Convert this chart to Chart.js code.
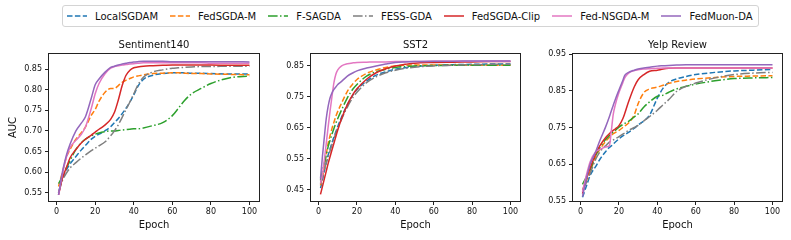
<!DOCTYPE html>
<html>
<head>
<meta charset="utf-8">
<script src="https://cdn.jsdelivr.net/npm/chart.js@4.4.0/dist/chart.umd.min.js"></script>
<style>
  body { margin: 0; background: #fff; width: 791px; height: 240px; position: relative; overflow: hidden; font-family: "DejaVu Sans", sans-serif; }
  canvas { position: absolute; top: 30px; }
  #legend { position: absolute; left: 62px; top: 5px; height: 20px; padding: 0 5px 0 4px; border: 1px solid #d4d4d4; border-radius: 3px;
            display: flex; align-items: center; gap: 12px; font-size: 10px; color: #111; white-space: nowrap; }
  .item { display: flex; align-items: center; }
  .item svg { margin-right: 8px; }
</style>
</head>
<body>
<div id="legend"></div>
<canvas id="c1" width="265" height="210" style="left:0px"></canvas>
<canvas id="c2" width="256" height="210" style="left:270px"></canvas>
<canvas id="c3" width="259" height="210" style="left:532px"></canvas>
<script>
// series (legend order)
const seriesNames = ['LocalSGDAM', 'FedSGDA-M', 'F-SAGDA', 'FESS-GDA', 'FedSGDA-Clip', 'Fed-NSGDA-M', 'FedMuon-DA'];
const seriesColors = ['#1f77b4', '#ff7f0e', '#2ca02c', '#7f7f7f', '#d62728', '#e377c2', '#9467bd'];
const seriesDashes = [[5.5, 2.4], [5.5, 2.4], [9.6, 2.4, 1.5, 2.4], [9.6, 2.4, 1.5, 2.4], [], [], []];

const xTicks = [0, 20, 40, 60, 80, 100];

// Sentiment140
const sentEpochs = [1, 3, 5, 7, 10, 13, 15, 18, 20, 22, 25, 28, 30, 32, 34, 36, 38, 40, 42, 45, 50, 55, 60, 63, 66, 70, 75, 80, 90, 100];
const sentLocalSGDAM = [0.55, 0.585, 0.605, 0.62, 0.638, 0.655, 0.665, 0.68, 0.687, 0.692, 0.70, 0.71, 0.72, 0.73, 0.742, 0.755, 0.77, 0.787, 0.807, 0.825, 0.835, 0.839, 0.841, 0.841, 0.841, 0.84, 0.84, 0.839, 0.838, 0.838];
const sentFedSGDAM = [0.565, 0.60, 0.635, 0.655, 0.68, 0.697, 0.71, 0.738, 0.752, 0.772, 0.793, 0.803, 0.803, 0.81, 0.818, 0.823, 0.827, 0.831, 0.833, 0.836, 0.839, 0.84, 0.841, 0.841, 0.84, 0.839, 0.839, 0.838, 0.837, 0.836];
const sentFSAGDA = [0.572, 0.59, 0.61, 0.628, 0.655, 0.672, 0.68, 0.688, 0.692, 0.695, 0.698, 0.70, 0.70, 0.701, 0.702, 0.703, 0.704, 0.705, 0.705, 0.707, 0.713, 0.72, 0.737, 0.754, 0.772, 0.79, 0.803, 0.815, 0.829, 0.833];
const sentFESSGDA = [0.55, 0.58, 0.597, 0.61, 0.623, 0.635, 0.642, 0.652, 0.658, 0.664, 0.673, 0.688, 0.70, 0.715, 0.733, 0.752, 0.77, 0.79, 0.81, 0.83, 0.843, 0.848, 0.852, 0.853, 0.854, 0.855, 0.856, 0.856, 0.857, 0.857];
const sentFedSGDAClip = [0.545, 0.585, 0.61, 0.635, 0.655, 0.672, 0.68, 0.69, 0.697, 0.704, 0.714, 0.728, 0.745, 0.775, 0.81, 0.835, 0.847, 0.853, 0.855, 0.857, 0.858, 0.859, 0.86, 0.86, 0.86, 0.86, 0.86, 0.86, 0.859, 0.859];
const sentFedNSGDAM = [0.545, 0.595, 0.635, 0.66, 0.677, 0.693, 0.71, 0.755, 0.79, 0.815, 0.838, 0.852, 0.856, 0.858, 0.86, 0.861, 0.862, 0.863, 0.864, 0.865, 0.865, 0.865, 0.865, 0.865, 0.865, 0.865, 0.865, 0.864, 0.864, 0.864];
const sentFedMuonDA = [0.545, 0.60, 0.64, 0.668, 0.70, 0.72, 0.735, 0.78, 0.812, 0.826, 0.842, 0.854, 0.857, 0.86, 0.862, 0.864, 0.866, 0.867, 0.868, 0.869, 0.869, 0.869, 0.868, 0.868, 0.868, 0.868, 0.868, 0.868, 0.868, 0.867];
const sentYTicks = [0.55, 0.60, 0.65, 0.70, 0.75, 0.80, 0.85];

// SST2
const sstEpochs = [1, 2, 3, 4, 5, 6, 7, 8, 9, 10, 12, 15, 18, 20, 25, 30, 35, 40, 45, 50, 60, 70, 80, 90, 100];
const sstLocalSGDAM = [0.455, 0.48, 0.51, 0.537, 0.562, 0.582, 0.602, 0.62, 0.637, 0.654, 0.685, 0.725, 0.757, 0.774, 0.801, 0.82, 0.831, 0.839, 0.844, 0.848, 0.852, 0.854, 0.855, 0.856, 0.856];
const sstFedSGDAM = [0.464, 0.49, 0.525, 0.565, 0.60, 0.625, 0.648, 0.668, 0.687, 0.703, 0.73, 0.768, 0.793, 0.806, 0.826, 0.837, 0.845, 0.85, 0.852, 0.853, 0.853, 0.852, 0.852, 0.852, 0.852];
const sstFSAGDA = [0.48, 0.51, 0.535, 0.562, 0.589, 0.61, 0.63, 0.648, 0.665, 0.68, 0.708, 0.747, 0.776, 0.79, 0.817, 0.831, 0.839, 0.845, 0.848, 0.85, 0.851, 0.852, 0.852, 0.852, 0.852];
const sstFESSGDA = [0.47, 0.49, 0.515, 0.537, 0.556, 0.576, 0.596, 0.615, 0.632, 0.649, 0.678, 0.717, 0.749, 0.765, 0.796, 0.815, 0.828, 0.836, 0.842, 0.846, 0.85, 0.852, 0.854, 0.855, 0.855];
const sstFedSGDAClip = [0.435, 0.46, 0.485, 0.51, 0.535, 0.557, 0.579, 0.60, 0.622, 0.643, 0.68, 0.725, 0.759, 0.776, 0.807, 0.828, 0.841, 0.85, 0.855, 0.859, 0.861, 0.862, 0.863, 0.864, 0.864];
const sstFedNSGDAM = [0.47, 0.50, 0.546, 0.60, 0.654, 0.705, 0.752, 0.796, 0.823, 0.837, 0.85, 0.857, 0.86, 0.861, 0.862, 0.863, 0.863, 0.864, 0.864, 0.864, 0.865, 0.865, 0.865, 0.865, 0.865];
const sstFedMuonDA = [0.486, 0.557, 0.62, 0.68, 0.72, 0.747, 0.763, 0.774, 0.782, 0.79, 0.80, 0.817, 0.828, 0.834, 0.843, 0.85, 0.856, 0.861, 0.863, 0.864, 0.865, 0.865, 0.866, 0.866, 0.866];
const sstYTicks = [0.45, 0.55, 0.65, 0.75, 0.85];

// Yelp Review
const yelpEpochs = [1, 3, 5, 8, 10, 13, 15, 16, 17, 18, 20, 22, 23, 25, 28, 30, 33, 36, 40, 43, 46, 50, 55, 60, 70, 80, 90, 100];
const yelpLocalSGDAM = [0.56, 0.59, 0.62, 0.645, 0.663, 0.684, 0.696, 0.70, 0.705, 0.71, 0.719, 0.727, 0.73, 0.737, 0.748, 0.757, 0.768, 0.784, 0.83, 0.857, 0.873, 0.882, 0.889, 0.894, 0.90, 0.904, 0.906, 0.908];
const yelpFedSGDAM = [0.58, 0.605, 0.63, 0.672, 0.69, 0.712, 0.723, 0.728, 0.733, 0.736, 0.742, 0.75, 0.754, 0.762, 0.785, 0.815, 0.845, 0.855, 0.86, 0.865, 0.87, 0.875, 0.879, 0.882, 0.886, 0.889, 0.89, 0.891];
const yelpFSAGDA = [0.595, 0.615, 0.635, 0.675, 0.695, 0.717, 0.728, 0.733, 0.738, 0.742, 0.751, 0.758, 0.761, 0.767, 0.779, 0.787, 0.806, 0.82, 0.835, 0.838, 0.846, 0.855, 0.862, 0.868, 0.877, 0.883, 0.885, 0.886];
const yelpFESSGDA = [0.58, 0.60, 0.625, 0.665, 0.683, 0.70, 0.71, 0.713, 0.716, 0.719, 0.725, 0.732, 0.735, 0.742, 0.75, 0.756, 0.768, 0.78, 0.797, 0.812, 0.826, 0.848, 0.862, 0.871, 0.885, 0.894, 0.898, 0.90];
const yelpFedSGDAClip = [0.57, 0.61, 0.64, 0.68, 0.70, 0.722, 0.733, 0.738, 0.742, 0.746, 0.755, 0.774, 0.788, 0.82, 0.861, 0.88, 0.894, 0.903, 0.906, 0.909, 0.911, 0.912, 0.912, 0.912, 0.912, 0.912, 0.912, 0.912];
const yelpFedNSGDAM = [0.575, 0.62, 0.657, 0.685, 0.69, 0.697, 0.70, 0.74, 0.785, 0.81, 0.845, 0.872, 0.885, 0.898, 0.905, 0.907, 0.909, 0.91, 0.911, 0.912, 0.912, 0.912, 0.912, 0.912, 0.912, 0.912, 0.912, 0.912];
const yelpFedMuonDA = [0.562, 0.61, 0.65, 0.686, 0.714, 0.751, 0.779, 0.795, 0.81, 0.825, 0.852, 0.878, 0.892, 0.90, 0.906, 0.909, 0.912, 0.914, 0.917, 0.918, 0.919, 0.92, 0.921, 0.921, 0.921, 0.921, 0.921, 0.921];
const yelpYTicks = [0.55, 0.65, 0.75, 0.85, 0.95];

Chart.defaults.font.family = '"DejaVu Sans", sans-serif';
Chart.defaults.color = '#111';

// legend
const legend = document.getElementById('legend');
seriesNames.forEach((name, i) => {
  const item = document.createElement('div');
  item.className = 'item';
  const dash = seriesDashes[i].length ? `stroke-dasharray="${seriesDashes[i].join(' ')}"` : '';
  item.innerHTML = `<svg width="20" height="6"><line x1="0" y1="3" x2="20" y2="3" stroke="${seriesColors[i]}" stroke-width="1.5" ${dash}/></svg><span>${name}</span>`;
  legend.appendChild(item);
});

// box around the plot area plus a title centred over it, like matplotlib
const frame = {
  id: 'frame',
  afterDraw(chart, args, opts) {
    const a = chart.chartArea;
    const ctx = chart.ctx;
    ctx.save();
    ctx.strokeStyle = '#222';
    ctx.lineWidth = 1;
    ctx.strokeRect(Math.round(a.left) - 0.5, Math.round(a.top) - 0.5, Math.round(a.right - a.left) + 1, Math.round(a.bottom - a.top) + 1);
    ctx.fillStyle = '#111';
    ctx.font = '10px "DejaVu Sans", sans-serif';
    ctx.textAlign = 'center';
    ctx.textBaseline = 'middle';
    ctx.fillText(opts.text, (a.left + a.right) / 2, a.top - 9);
    ctx.restore();
  }
};

function makePanel(id, title, epochs, values, yMin, yMax, yTicks, yTitle, yWidth, padRight) {
  const datasets = values.map((vals, i) => ({
    label: seriesNames[i],
    data: epochs.map((e, k) => ({ x: e, y: vals[k] })),
    borderColor: seriesColors[i],
    borderDash: seriesDashes[i],
    borderWidth: 1.5,
    pointRadius: 0,
    fill: false,
    cubicInterpolationMode: 'monotone',
    order: seriesNames.length - i
  }));
  new Chart(document.getElementById(id), {
    type: 'line',
    data: { datasets },
    plugins: [frame],
    options: {
      responsive: false,
      animation: false,
      devicePixelRatio: 1,
      layout: { padding: { top: 24, right: padRight, bottom: 0, left: 0 } },
      plugins: {
        legend: { display: false },
        tooltip: { enabled: false },
        title: { display: false },
        frame: { text: title }
      },
      scales: {
        x: {
          type: 'linear', min: -3.95, max: 104.95,
          afterBuildTicks: s => { s.ticks = xTicks.map(v => ({ value: v })); },
          afterFit: s => { s.height = 39; },
          ticks: { font: { size: 8 }, color: '#111', padding: 2, maxRotation: 0, callback: v => String(v) },
          grid: { drawOnChartArea: false, drawTicks: true, tickLength: 4, color: '#222' },
          border: { display: false },
          title: { display: true, text: 'Epoch', color: '#111', font: { size: 10, lineHeight: 1.2 }, padding: { top: 0, bottom: 9 } }
        },
        y: {
          type: 'linear', min: yMin, max: yMax,
          afterBuildTicks: s => { s.ticks = yTicks.map(v => ({ value: v })); },
          afterFit: s => { s.width = yWidth; },
          ticks: { font: { size: 8 }, color: '#111', padding: 3, callback: v => v.toFixed(2) },
          grid: { drawOnChartArea: false, drawTicks: true, tickLength: 4, color: '#222' },
          border: { display: false },
          title: { display: !!yTitle, text: yTitle, color: '#111', font: { size: 10, lineHeight: 1.2 }, padding: { top: 7, bottom: 0 } }
        }
      }
    }
  });
}

makePanel('c1', 'Sentiment140', sentEpochs,
  [sentLocalSGDAM, sentFedSGDAM, sentFSAGDA, sentFESSGDA, sentFedSGDAClip, sentFedNSGDAM, sentFedMuonDA],
  0.53, 0.8865, sentYTicks, 'AUC', 49, 6);
makePanel('c2', 'SST2', sstEpochs,
  [sstLocalSGDAM, sstFedSGDAM, sstFSAGDA, sstFESSGDA, sstFedSGDAClip, sstFedNSGDAM, sstFedMuonDA],
  0.4134, 0.8885, sstYTicks, '', 41, 6);
makePanel('c3', 'Yelp Review', yelpEpochs,
  [yelpLocalSGDAM, yelpFedSGDAM, yelpFSAGDA, yelpFESSGDA, yelpFedSGDAClip, yelpFedNSGDAM, yelpFedMuonDA],
  0.55, 0.95, yelpYTicks, '', 41, 9);
</script>
</body>
</html>
